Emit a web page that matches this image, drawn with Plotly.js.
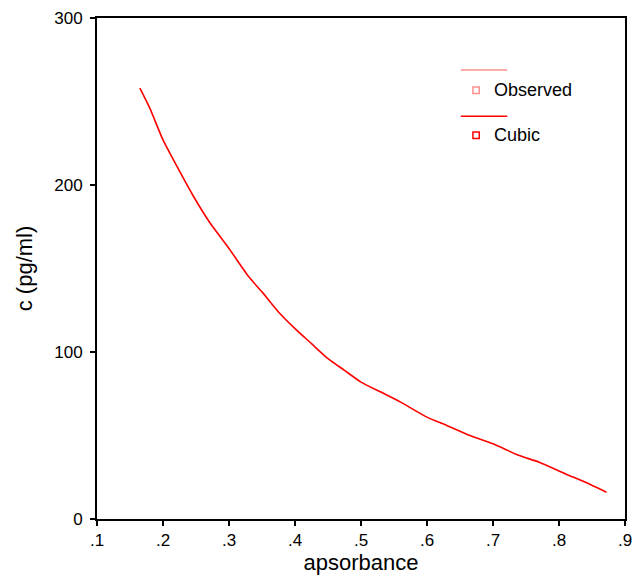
<!DOCTYPE html>
<html>
<head>
<meta charset="utf-8">
<script src="https://cdn.plot.ly/plotly-3.0.1.min.js"></script>
<style>html,body{margin:0;padding:0;background:#fff}</style>
</head>
<body>
<div id="chart" style="width:641px;height:579px"></div>
<script>
// Cubic fit curve
const absorbance = [0.165, 0.18, 0.20, 0.22, 0.245, 0.27, 0.30, 0.33, 0.35, 0.375, 0.40, 0.425, 0.45, 0.475, 0.50, 0.53, 0.56, 0.60, 0.63, 0.665, 0.70, 0.74, 0.77, 0.81, 0.84, 0.872];
const conc = [258, 246, 227, 212, 194, 178, 162, 145, 136, 124, 114, 105, 96, 89, 82, 76, 70, 61, 56, 50, 45, 38, 34, 27, 22, 16];
const xTicks = [0.1, 0.2, 0.3, 0.4, 0.5, 0.6, 0.7, 0.8, 0.9];
const xTickText = ['.1', '.2', '.3', '.4', '.5', '.6', '.7', '.8', '.9'];
const yTicks = [0, 100, 200, 300];
const legendNames = ['Observed', 'Cubic'];
const legendColors = ['#ff9090', '#ff0000'];

const font = 'Liberation Sans, Arial, Helvetica, sans-serif';

const traces = [{
  x: absorbance, y: conc, type: 'scatter', mode: 'lines',
  line: {color: '#ff0000', width: 1.6, shape: 'spline', smoothing: 0.6}, name: 'Cubic', showlegend: false
}];

// manual SPSS-style legend: line on top, square marker + label below
const shapes = [];
const annotations = [];
const legLineY = [0.896, 0.804];
const legMarkY = [0.856, 0.766];
legendNames.forEach((n, i) => {
  shapes.push({type: 'line', xref: 'paper', yref: 'paper', x0: 0.689, x1: 0.777,
    y0: legLineY[i], y1: legLineY[i], line: {color: legendColors[i], width: 1.5}});
  shapes.push({type: 'rect', xref: 'paper', yref: 'paper', x0: 0.712, x1: 0.724,
    y0: legMarkY[i] - 0.0065, y1: legMarkY[i] + 0.0065, line: {color: legendColors[i], width: 1.5},
    fillcolor: 'rgba(0,0,0,0)'});
  annotations.push({xref: 'paper', yref: 'paper', x: 0.748, y: legMarkY[i], text: n,
    showarrow: false, xanchor: 'left', yanchor: 'middle', font: {family: font, size: 18, color: '#000'}});
});

const layout = {
  width: 641, height: 579,
  margin: {l: 97, r: 16, t: 18, b: 60},
  paper_bgcolor: '#fff', plot_bgcolor: '#fff',
  showlegend: false,
  font: {family: font, color: '#000', size: 17},
  xaxis: {
    range: [0.1, 0.9], tickvals: xTicks, ticktext: xTickText,
    ticks: 'outside', ticklen: 5, tickwidth: 2, tickcolor: '#000',
    showline: true, linecolor: '#000', linewidth: 2, mirror: true,
    showgrid: false, zeroline: false,
    tickfont: {family: font, size: 17},
    title: {text: 'apsorbance', font: {family: font, size: 22}, standoff: 4}
  },
  yaxis: {
    range: [0, 300], tickvals: yTicks,
    ticks: 'outside', ticklen: 5, tickwidth: 2, tickcolor: '#000',
    showline: true, linecolor: '#000', linewidth: 2, mirror: true,
    showgrid: false, zeroline: false,
    ticklabelstandoff: 4,
    tickfont: {family: font, size: 17},
    title: {text: 'c (pg/ml)', font: {family: font, size: 22}, standoff: 16}
  },
  shapes: shapes,
  annotations: annotations
};

Plotly.newPlot('chart', traces, layout, {displayModeBar: false, staticPlot: true});
</script>
</body>
</html>
